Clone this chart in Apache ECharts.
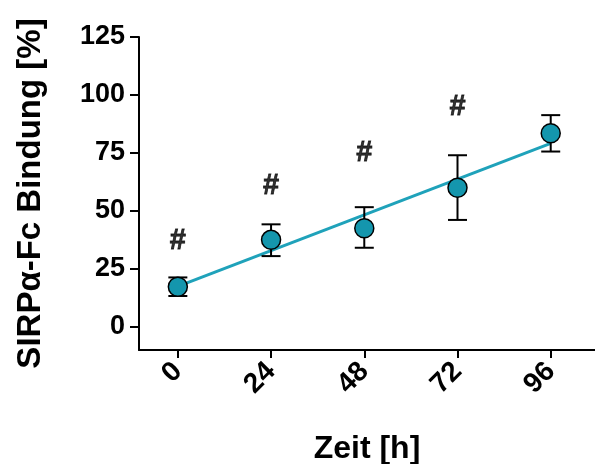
<!DOCTYPE html>
<html>
<head>
<meta charset="utf-8">
<script src="https://cdn.jsdelivr.net/npm/echarts@6/dist/echarts.min.js"></script>
<style>html,body{margin:0;padding:0;background:#fff}#c{width:595px;height:464px}</style>
</head>
<body>
<div id="c"></div>
<script>
var timePoints = [0, 24, 48, 72, 96];
var meanValues = [17.3, 37.5, 42.5, 60.0, 83.5];
var errLow = [13.3, 30.5, 34.1, 46.1, 75.6];
var errHigh = [21.3, 44.2, 51.6, 74.0, 91.3];
var fitLine = [[0, 17.4], [96, 79.1]];
var hashX = [0, 24, 48, 72];
var hashY = [37, 60.8, 75, 95];
var yTicks = [0, 25, 50, 75, 100, 125];
var xTicks = [0, 24, 48, 72, 96];

var FONT = '"Liberation Sans", Arial, sans-serif';
var chart = echarts.init(document.getElementById('c'));

var pts = timePoints.map(function (t, i) { return [t, meanValues[i]]; });
var errData = timePoints.map(function (t, i) { return [t, errLow[i], errHigh[i]]; });
var hashData = hashX.map(function (t, i) { return [t, hashY[i]]; });

chart.setOption({
  animation: false,
  grid: { left: 139, right: 0, top: 37, bottom: 114, containLabel: false, outerBoundsMode: 'none' },
  xAxis: {
    type: 'value', min: -10, max: 107.4,
    name: 'Zeit [h]', nameLocation: 'middle', nameGap: 83,
    nameTextStyle: { fontFamily: FONT, fontWeight: 'bold', fontSize: 32, color: '#000' },
    axisLine: { show: true, onZero: false, lineStyle: { color: '#000', width: 2 } },
    axisTick: { show: true, length: 8, lineStyle: { color: '#000', width: 2 }, customValues: xTicks },
    axisLabel: { rotate: 45, margin: 17, fontFamily: FONT, fontWeight: 'bold', fontSize: 28, color: '#000', customValues: xTicks },
    splitLine: { show: false }
  },
  yAxis: {
    type: 'value', min: -10, max: 125,
    name: 'SIRPα-Fc Bindung [%]', nameLocation: 'middle', nameGap: 92,
    nameTextStyle: { fontFamily: FONT, fontWeight: 'bold', fontSize: 33, color: '#000' },
    axisLine: { show: true, onZero: false, lineStyle: { color: '#000', width: 2 } },
    axisTick: { show: true, length: 9, lineStyle: { color: '#000', width: 2 }, customValues: yTicks },
    axisLabel: { margin: 14, fontFamily: FONT, fontWeight: 'bold', fontSize: 27, color: '#000', customValues: yTicks },
    splitLine: { show: false }
  },
  series: [
    {
      type: 'line', data: fitLine, symbol: 'none', z: 2,
      lineStyle: { color: '#1fa2ba', width: 3 }
    },
    {
      type: 'custom', z: 3, data: errData,
      renderItem: function (params, api) {
        var x = api.value(0);
        var lo = api.coord([x, api.value(1)]);
        var hi = api.coord([x, api.value(2)]);
        var hw = 9.5;
        var st = { stroke: '#000', lineWidth: 2 };
        return {
          type: 'group', children: [
            { type: 'line', shape: { x1: lo[0], y1: lo[1], x2: hi[0], y2: hi[1] }, style: st },
            { type: 'line', shape: { x1: lo[0] - hw, y1: lo[1], x2: lo[0] + hw, y2: lo[1] }, style: st },
            { type: 'line', shape: { x1: hi[0] - hw, y1: hi[1], x2: hi[0] + hw, y2: hi[1] }, style: st }
          ]
        };
      }
    },
    {
      type: 'scatter', data: pts, symbol: 'circle', symbolSize: 19, z: 4,
      itemStyle: { color: '#1496ad', borderColor: '#000', borderWidth: 1.5, opacity: 1 }
    },
    {
      type: 'scatter', data: hashData, symbolSize: 0, z: 5,
      label: { show: true, position: 'inside', formatter: '#', fontFamily: FONT, fontWeight: 'bold', fontSize: 29, color: '#000', textBorderColor: '#000', textBorderWidth: 0.8 }
    }
  ]
});
</script>
</body>
</html>
